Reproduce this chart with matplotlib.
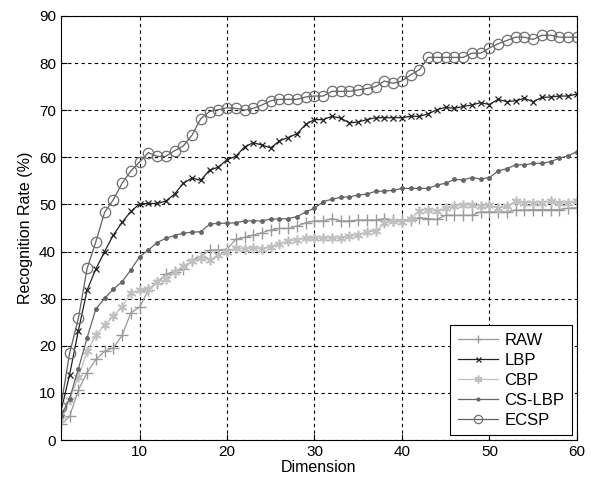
import matplotlib
matplotlib.use("Agg")
import matplotlib.pyplot as plt
import numpy as np

plt.rcParams['font.family'] = ['Liberation Sans', 'DejaVu Sans']

dims = list(range(1, 61))

raw = [3.3, 5.0, 10.6, 14.3, 17.1, 18.8, 19.6, 22.2, 27.0, 28.2,
       31.8, 33.4, 35.2, 35.7, 36.2, 38.2, 38.9, 40.3, 40.3, 40.5,
       42.6, 43.0, 43.5, 44.0, 44.6, 44.9, 44.9, 45.4, 46.1, 46.5,
       46.5, 47.0, 46.5, 46.5, 46.7, 46.7, 46.7, 47.0, 46.7, 46.7,
       46.7, 47.2, 47.0, 46.8, 47.7, 47.7, 47.7, 47.7, 48.4, 48.4,
       48.4, 48.4, 48.8, 48.8, 48.9, 48.9, 48.9, 48.9, 49.2, 49.3]

lbp = [6.0, 13.9, 23.2, 31.8, 36.3, 40.0, 43.5, 46.2, 48.5, 50.1,
       50.2, 50.2, 50.7, 52.2, 54.5, 55.6, 55.1, 57.3, 57.9, 59.5,
       60.2, 62.2, 63.1, 62.6, 62.0, 63.5, 64.2, 65.0, 67.0, 68.0,
       68.0, 68.7, 68.3, 67.3, 67.5, 68.0, 68.4, 68.4, 68.4, 68.4,
       68.7, 68.7, 69.2, 70.1, 70.6, 70.4, 70.8, 71.1, 71.6, 71.2,
       72.3, 71.8, 72.0, 72.5, 71.8, 72.7, 72.8, 73.0, 73.0, 73.4]

cbp = [4.4, 8.5, 13.4, 18.8, 22.2, 24.4, 26.3, 28.3, 31.1, 31.8,
       32.0, 33.6, 34.1, 35.7, 36.9, 37.9, 38.6, 38.2, 39.3, 40.0,
       40.7, 40.5, 40.8, 40.5, 41.0, 41.7, 42.2, 42.5, 42.8, 42.8,
       42.8, 42.8, 42.8, 43.2, 43.5, 44.2, 44.3, 46.0, 46.4, 46.3,
       47.0, 48.6, 48.9, 48.6, 49.2, 49.6, 49.9, 49.9, 49.6, 49.9,
       49.2, 49.6, 50.7, 50.4, 50.4, 50.2, 50.7, 50.4, 50.2, 50.7]

cslbp = [5.1, 8.8, 15.1, 21.7, 27.8, 30.1, 32.0, 33.6, 36.1, 38.9,
         40.3, 41.9, 42.8, 43.4, 43.9, 44.1, 44.2, 45.8, 46.0, 46.0,
         46.1, 46.5, 46.5, 46.5, 46.9, 46.9, 47.0, 47.4, 48.4, 49.2,
         50.6, 51.1, 51.5, 51.6, 52.0, 52.2, 52.8, 52.8, 53.0, 53.4,
         53.4, 53.4, 53.4, 54.1, 54.5, 55.3, 55.2, 55.7, 55.4, 55.7,
         57.1, 57.6, 58.4, 58.4, 58.7, 58.7, 59.1, 59.8, 60.3, 61.2]

ecsp = [7.1, 18.4, 25.8, 36.4, 42.1, 48.3, 51.0, 54.5, 57.1, 59.0,
        61.0, 60.2, 60.2, 61.4, 62.4, 64.7, 68.2, 69.7, 70.1, 70.5,
        70.4, 70.0, 70.4, 71.1, 72.0, 72.3, 72.3, 72.3, 72.8, 73.0,
        73.0, 74.0, 74.0, 74.0, 74.3, 74.6, 75.0, 76.2, 75.7, 76.2,
        77.5, 78.6, 81.2, 81.2, 81.2, 81.2, 81.2, 82.1, 82.1, 83.2,
        84.1, 84.8, 85.5, 85.5, 85.0, 85.9, 85.9, 85.5, 85.5, 85.5]

series_names = ["RAW", "LBP", "CBP", "CS-LBP", "ECSP"]

fig = plt.figure(figsize=(5.91, 4.83), dpi=100)
ax = fig.add_axes([0.103, 0.089, 0.873, 0.878])

ax.plot(dims, raw, color='#9a9a9a', lw=0.9, marker='+', ms=8, mew=1.0, label=series_names[0])
ax.plot(dims, lbp, color='#222222', lw=0.9, marker='x', ms=4.5, mew=0.9, label=series_names[1])
ax.plot(dims, cbp, color='#c0c0c0', lw=0.9, marker=(6, 2, 0), ms=7, mew=1.2, label=series_names[2])
ax.plot(dims, cslbp, color='#666666', lw=0.9, marker='.', ms=5, label=series_names[3])
ax.plot(dims, ecsp, color='#606060', lw=0.9, marker='o', ms=7.5, mfc='none', mec='#707070', mew=0.9,
        label=series_names[4])

ax.set_xlim(1, 60)
ax.set_ylim(0, 90)
ax.set_xticks([10, 20, 30, 40, 50, 60])
ax.set_yticks(np.arange(0, 91, 10))
ax.grid(True, color='black', linestyle=(0, (3, 3)), linewidth=0.8)
ax.tick_params(direction='in', length=4, labelsize=11, colors='black')
for s in ax.spines.values():
    s.set_color('black')
    s.set_linewidth(0.8)

ax.set_xlabel("Dimension", fontsize=11.5, labelpad=1)
ax.set_ylabel("Recognition Rate (%)", fontsize=11.5, labelpad=4)

leg = ax.legend(loc='lower right', fontsize=12, frameon=True, fancybox=False,
                edgecolor='black', framealpha=1, borderaxespad=0.3,
                handlelength=2.4, labelspacing=0.3, handletextpad=0.4,
                borderpad=0.45, numpoints=1, markerscale=0.8)
leg.get_frame().set_linewidth(0.8)

fig.savefig("out.png", dpi=100)
